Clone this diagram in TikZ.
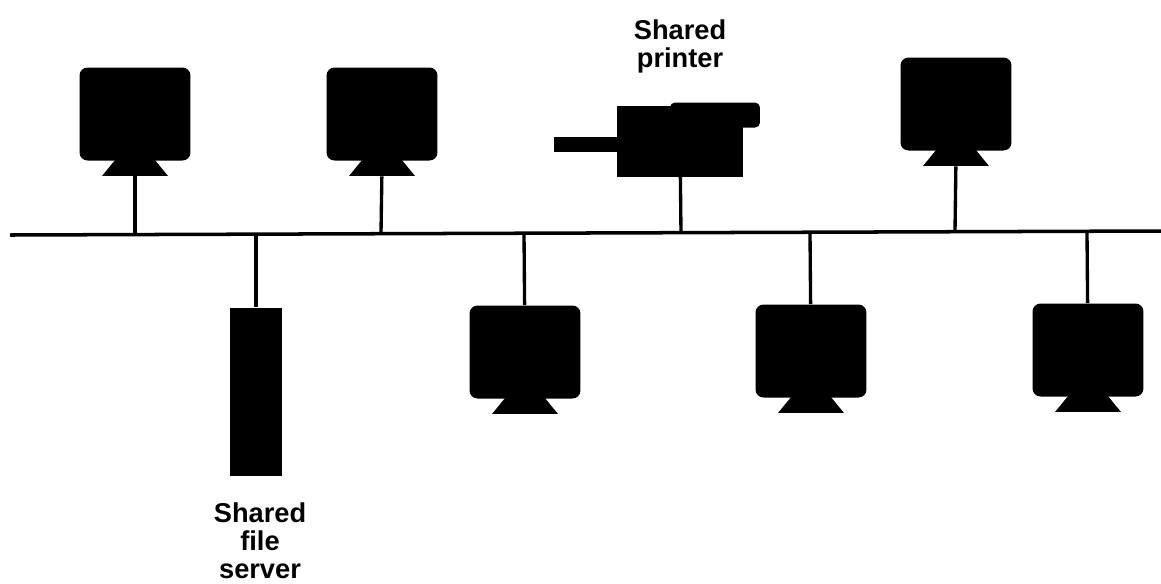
\documentclass[tikz,border=0pt]{standalone}
\usepackage{fontspec}
\setmainfont{Liberation Sans}
\usetikzlibrary{shapes.geometric}
\begin{document}
\begin{tikzpicture}[x=0.02cm, y=-0.02cm, node distance=1.06cm,
    screen/.style={rectangle, fill=black, rounded corners=0.16cm, minimum width=2.22cm, minimum height=1.86cm, inner sep=0pt},
    foot/.style={trapezium, fill=black, trapezium stretches=true, trapezium left angle=68, trapezium right angle=68, minimum width=1.32cm, minimum height=0.36cm, inner sep=1pt},
    solid box/.style={rectangle, fill=black, inner sep=0pt},
    caption/.style={align=center, inner sep=0pt, font=\fontsize{15.5}{16}\selectfont\bfseries},
    wire/.style={line width=1.9pt},
    bus/.style={line width=2pt}]
  \useasboundingbox (0,0) rectangle (1161,583);

  \node[screen] (pc_a) at (135,114) {};
  \node[foot, below of=pc_a] (pc_a_foot) {};
  \node[screen] (pc_b) at (382,114) {};
  \node[foot, below of=pc_b] (pc_b_foot) {};
  \node[screen] (pc_c) at (956,104) {};
  \node[foot, below of=pc_c] (pc_c_foot) {};
  \node[screen] (pc_d) at (525,352) {};
  \node[foot, below of=pc_d] (pc_d_foot) {};
  \node[screen] (pc_e) at (811,351) {};
  \node[foot, below of=pc_e] (pc_e_foot) {};
  \node[screen] (pc_f) at (1088,350) {};
  \node[foot, below of=pc_f] (pc_f_foot) {};

  \node[solid box, minimum width=2.52cm, minimum height=1.42cm] (printer) at (680,141) {};
  \node[solid box, rounded corners=0.1cm, minimum width=1.8cm, minimum height=0.5cm] (printer_top) at (715,115) {};
  \node[solid box, minimum width=1.3cm, minimum height=0.3cm, left of=printer, node distance=1.88cm, yshift=-0.06cm] (printer_tray) {};
  \node[caption, above of=printer, node distance=1.9cm] (printer_label) {Shared\\printer};

  \node[solid box, minimum width=1.06cm, minimum height=3.38cm] (server) at (256,392) {};
  \node[caption, below of=server, node distance=2.97cm, xshift=0.08cm] (server_label) {Shared\\file\\server};

  \coordinate (bus_left) at (10,235);
  \coordinate (bus_right) at (1161,231);
  \coordinate (tap_a) at (135,234);
  \coordinate (tap_b) at (381,233);
  \coordinate (tap_c) at (955,232);
  \coordinate (tap_d) at (524,233);
  \coordinate (tap_e) at (810,232);
  \coordinate (tap_f) at (1087,232);
  \coordinate (tap_printer) at (681,233);
  \coordinate (tap_server) at (256,234);

  \draw[bus] (bus_left) -- (bus_right);
  \draw[wire] (pc_a_foot) -- (tap_a);
  \draw[wire] (pc_b_foot) -- (tap_b);
  \draw[wire] (pc_c_foot) -- (tap_c);
  \draw[wire] (pc_d) -- (tap_d);
  \draw[wire] (pc_e) -- (tap_e);
  \draw[wire] (pc_f) -- (tap_f);
  \draw[wire] (printer) -- (tap_printer);
  \draw[wire] (server) -- (tap_server);
\end{tikzpicture}
\end{document}
